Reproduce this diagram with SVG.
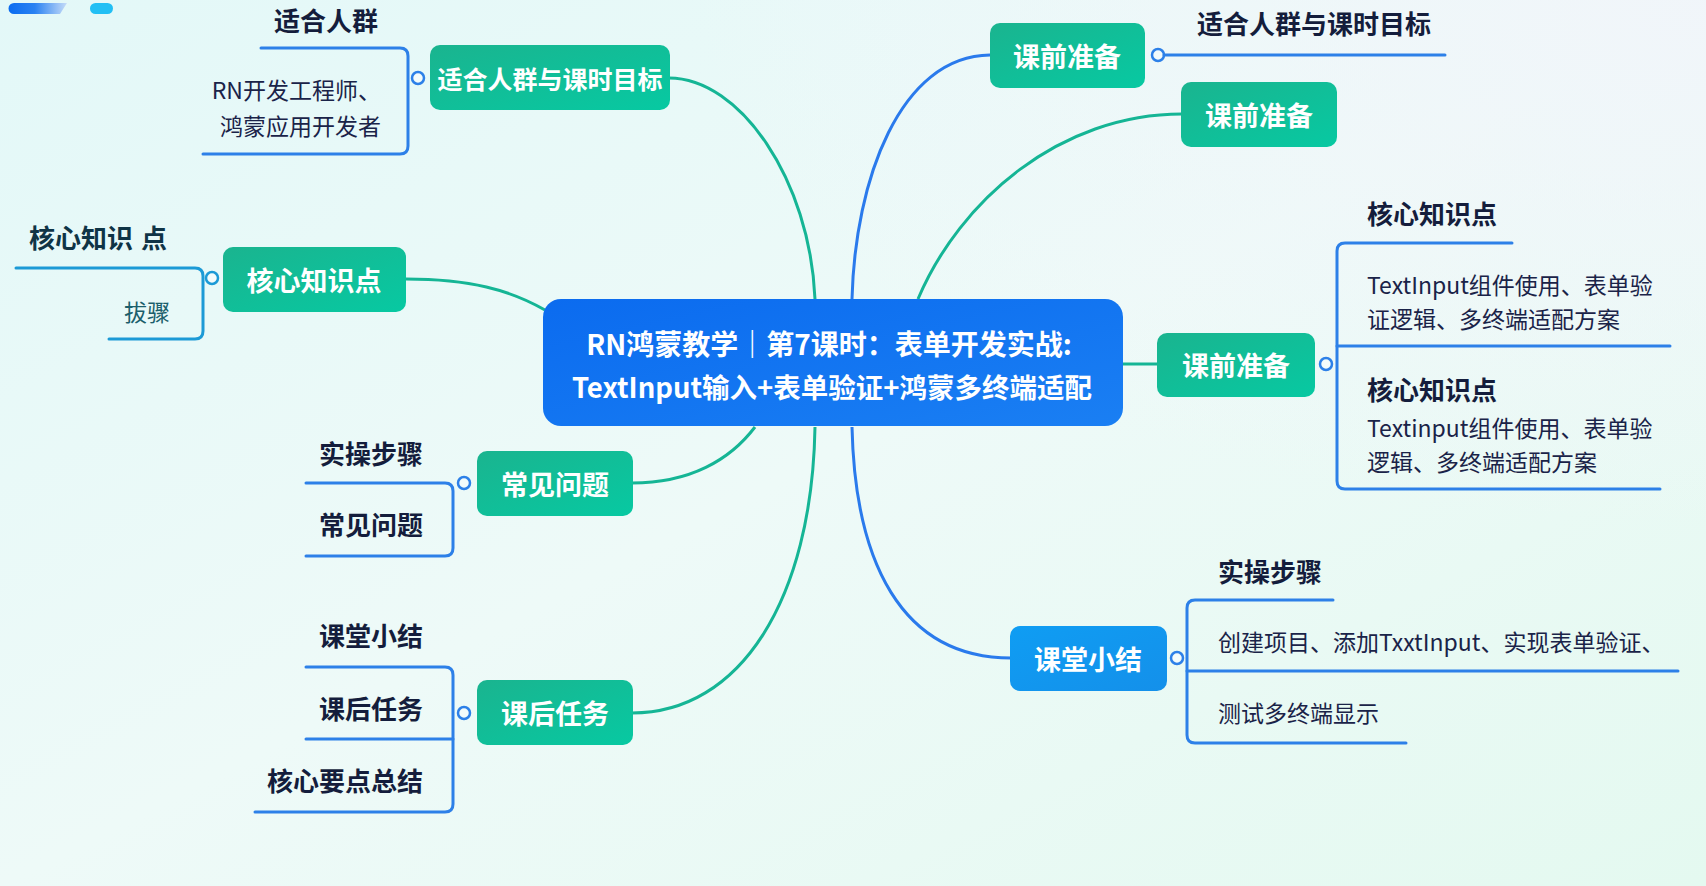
<svg xmlns="http://www.w3.org/2000/svg" width="1706" height="886" viewBox="0 0 1706 886">
<defs>
  <linearGradient id="bg" x1="0" y1="0" x2="1" y2="1">
    <stop offset="0" stop-color="#e3f8f8"/>
    <stop offset="0.5" stop-color="#eefaf8"/>
    <stop offset="1" stop-color="#e4f9f0"/>
  </linearGradient>
  <radialGradient id="bgtr" cx="1" cy="0" r="0.6">
    <stop offset="0" stop-color="#f1f5fa" stop-opacity="0.9"/>
    <stop offset="1" stop-color="#f1f5fa" stop-opacity="0"/>
  </radialGradient>
  <linearGradient id="green" x1="0" y1="0" x2="1" y2="1">
    <stop offset="0" stop-color="#1ab48f"/>
    <stop offset="1" stop-color="#07c9a2"/>
  </linearGradient>
  <linearGradient id="center" x1="0" y1="0" x2="1" y2="1">
    <stop offset="0" stop-color="#0b6bef"/>
    <stop offset="1" stop-color="#1a7ff3"/>
  </linearGradient>
  <linearGradient id="sky" x1="0" y1="0" x2="1" y2="1">
    <stop offset="0" stop-color="#0f9df3"/>
    <stop offset="1" stop-color="#1490ea"/>
  </linearGradient>
  <linearGradient id="deco" x1="0" y1="0" x2="1" y2="0">
    <stop offset="0" stop-color="#0a6cf0"/>
    <stop offset="0.45" stop-color="#2a82f2"/>
    <stop offset="1" stop-color="#c6dcf8"/>
  </linearGradient>
  <style>
    .node-g { fill: url(#green); }
    .ntxt { font-family: "Noto Sans CJK SC", "Noto Sans", sans-serif; font-weight: 700; fill: #ffffff; text-anchor: middle; }
    .lbl { font-family: "Noto Sans CJK SC", "Noto Sans", sans-serif; font-weight: 700; fill: #141d3c; font-size: 26px; }
    .txt { font-family: "Noto Sans CJK SC", "Noto Sans", sans-serif; font-weight: 400; fill: #1a2348; font-size: 23px; }
    .br { fill: none; stroke: #2d80e8; stroke-width: 3; stroke-linecap: round; }
    .dot { fill: #f3fbfb; stroke: #2d80e8; stroke-width: 2.5; }
    .c-teal { fill: none; stroke: #15b595; stroke-width: 3; }
    .c-blue { fill: none; stroke: #2a7aec; stroke-width: 3; }
  </style>
</defs>

<rect x="0" y="0" width="1706" height="886" fill="url(#bg)"/>
<rect x="0" y="0" width="1706" height="886" fill="url(#bgtr)"/>

<!-- decoration -->
<path d="M14,3 H67 L60,14 H14 A5.5,5.5 0 0 1 14,3 Z" fill="url(#deco)"/>
<rect x="90" y="3" width="23" height="11" rx="5.5" fill="#22bff4"/>

<!-- connectors -->
<g id="connectors">
  <path class="c-teal" d="M669,78 C740,78 810,180 815,299"/>
  <path class="c-teal" d="M406,279 C470,279 510,290 545,310"/>
  <path class="c-teal" d="M632,483 C690,483 730,460 755,427"/>
  <path class="c-teal" d="M632,713 C740,713 812,600 815,427"/>
  <path class="c-blue" d="M852,299 C855,180 900,56 990,55"/>
  <path class="c-teal" d="M918,299 C960,200 1060,114 1182,114"/>
  <path class="c-teal" d="M1123,364 H1157"/>
  <path class="c-blue" d="M852,427 C855,560 900,658 1011,658"/>
</g>

<!-- center -->
<g id="center-node">
  <rect x="543" y="299" width="580" height="127" rx="18" fill="url(#center)"/>
  <text class="ntxt" x="829" y="355" font-size="28">RN鸿蒙教学｜第7课时：表单开发实战:</text>
  <text class="ntxt" x="832" y="398" font-size="27.5">TextInput输入+表单验证+鸿蒙多终端适配</text>
</g>

<!-- left 1 -->
<g id="node-audience">
  <rect class="node-g" x="430" y="45" width="240" height="65" rx="10"/>
  <text class="ntxt" x="550" y="89" font-size="25">适合人群与课时目标</text>
  <circle class="dot" cx="418" cy="78" r="6"/>
  <path class="br" d="M261,48 H400 Q408,48 408,56 V146 Q408,154 400,154 H203"/>
  <text class="lbl" x="326" y="31" text-anchor="middle">适合人群</text>
  <text class="txt" x="381" y="99" text-anchor="end" font-size="24.5">RN开发工程师、</text>
  <text class="txt" x="381" y="135" text-anchor="end" font-size="24.5">鸿蒙应用开发者</text>
</g>

<!-- left 2 -->
<g id="node-core-left">
  <rect class="node-g" x="223" y="247" width="183" height="65" rx="10"/>
  <text class="ntxt" x="314" y="291" font-size="27">核心知识点</text>
  <circle class="dot" cx="212" cy="278" r="6" style="stroke:#1c9ad6"/>
  <path class="br" style="stroke:#1c9ad6" d="M16,268 H195 Q203,268 203,276 V331 Q203,339 195,339 H109"/>
  <text class="lbl" x="29" y="248" font-size="27" style="fill:#0f3446">核心知识<tspan dx="8">点</tspan></text>
  <text class="txt" x="147" y="321" text-anchor="middle" font-size="25" style="fill:#1c5f6c">拔骤</text>
</g>

<!-- left 3 -->
<g id="node-faq">
  <rect class="node-g" x="477" y="451" width="156" height="65" rx="10"/>
  <text class="ntxt" x="555" y="495" font-size="27">常见问题</text>
  <circle class="dot" cx="464" cy="483" r="6"/>
  <path class="br" d="M306,483 H445 Q453,483 453,491 V548 Q453,556 445,556 H306"/>
  <text class="lbl" x="423" y="464" text-anchor="end">实操步骤</text>
  <text class="lbl" x="423" y="535" text-anchor="end">常见问题</text>
</g>

<!-- left 4 -->
<g id="node-homework">
  <rect class="node-g" x="477" y="680" width="156" height="65" rx="10"/>
  <text class="ntxt" x="555" y="724" font-size="27">课后任务</text>
  <circle class="dot" cx="464" cy="713" r="6"/>
  <path class="br" d="M306,667 H445 Q453,667 453,675 V804 Q453,812 445,812 H255"/>
  <path class="br" d="M306,739 H453"/>
  <text class="lbl" x="423" y="646" text-anchor="end">课堂小结</text>
  <text class="lbl" x="423" y="719" text-anchor="end">课后任务</text>
  <text class="lbl" x="423" y="791" text-anchor="end">核心要点总结</text>
</g>

<!-- right 1 -->
<g id="node-prep-1">
  <rect class="node-g" x="990" y="23" width="155" height="65" rx="10"/>
  <text class="ntxt" x="1067" y="67" font-size="27">课前准备</text>
  <circle class="dot" cx="1158" cy="55" r="6"/>
  <path class="br" d="M1164,55 H1445"/>
  <text class="lbl" x="1314" y="34" text-anchor="middle">适合人群与课时目标</text>
</g>

<!-- right 2 -->
<g id="node-prep-2">
  <rect class="node-g" x="1181" y="82" width="156" height="65" rx="10"/>
  <text class="ntxt" x="1259" y="126" font-size="27">课前准备</text>
</g>

<!-- right 3 -->
<g id="node-prep-3">
  <rect class="node-g" x="1157" y="333" width="158" height="64" rx="10"/>
  <text class="ntxt" x="1236" y="376" font-size="27">课前准备</text>
  <circle class="dot" cx="1326" cy="364" r="6"/>
  <path class="br" d="M1512,243 H1345 Q1337,243 1337,251 V481 Q1337,489 1345,489 H1660"/>
  <path class="br" d="M1337,346 H1670"/>
  <text class="lbl" x="1367" y="224">核心知识点</text>
  <text class="txt" x="1367" y="294">TextInput组件使用、表单验</text>
  <text class="txt" x="1367" y="328">证逻辑、多终端适配方案</text>
  <text class="lbl" x="1367" y="400">核心知识点</text>
  <text class="txt" x="1367" y="437">Textinput组件使用、表单验</text>
  <text class="txt" x="1367" y="471">逻辑、多终端适配方案</text>
</g>

<!-- right 4 -->
<g id="node-summary">
  <rect x="1010" y="626" width="157" height="65" rx="10" fill="url(#sky)"/>
  <text class="ntxt" x="1088" y="670" font-size="27">课堂小结</text>
  <circle class="dot" cx="1177" cy="658" r="6"/>
  <path class="br" d="M1333,600 H1195 Q1187,600 1187,608 V735 Q1187,743 1195,743 H1406"/>
  <path class="br" d="M1187,671 H1678"/>
  <text class="lbl" x="1218" y="582">实操步骤</text>
  <text class="txt" x="1218" y="651" font-size="23.7">创建项目、添加TxxtInput、实现表单验证、</text>
  <text class="txt" x="1218" y="722" font-size="25">测试多终端显示</text>
</g>
</svg>
